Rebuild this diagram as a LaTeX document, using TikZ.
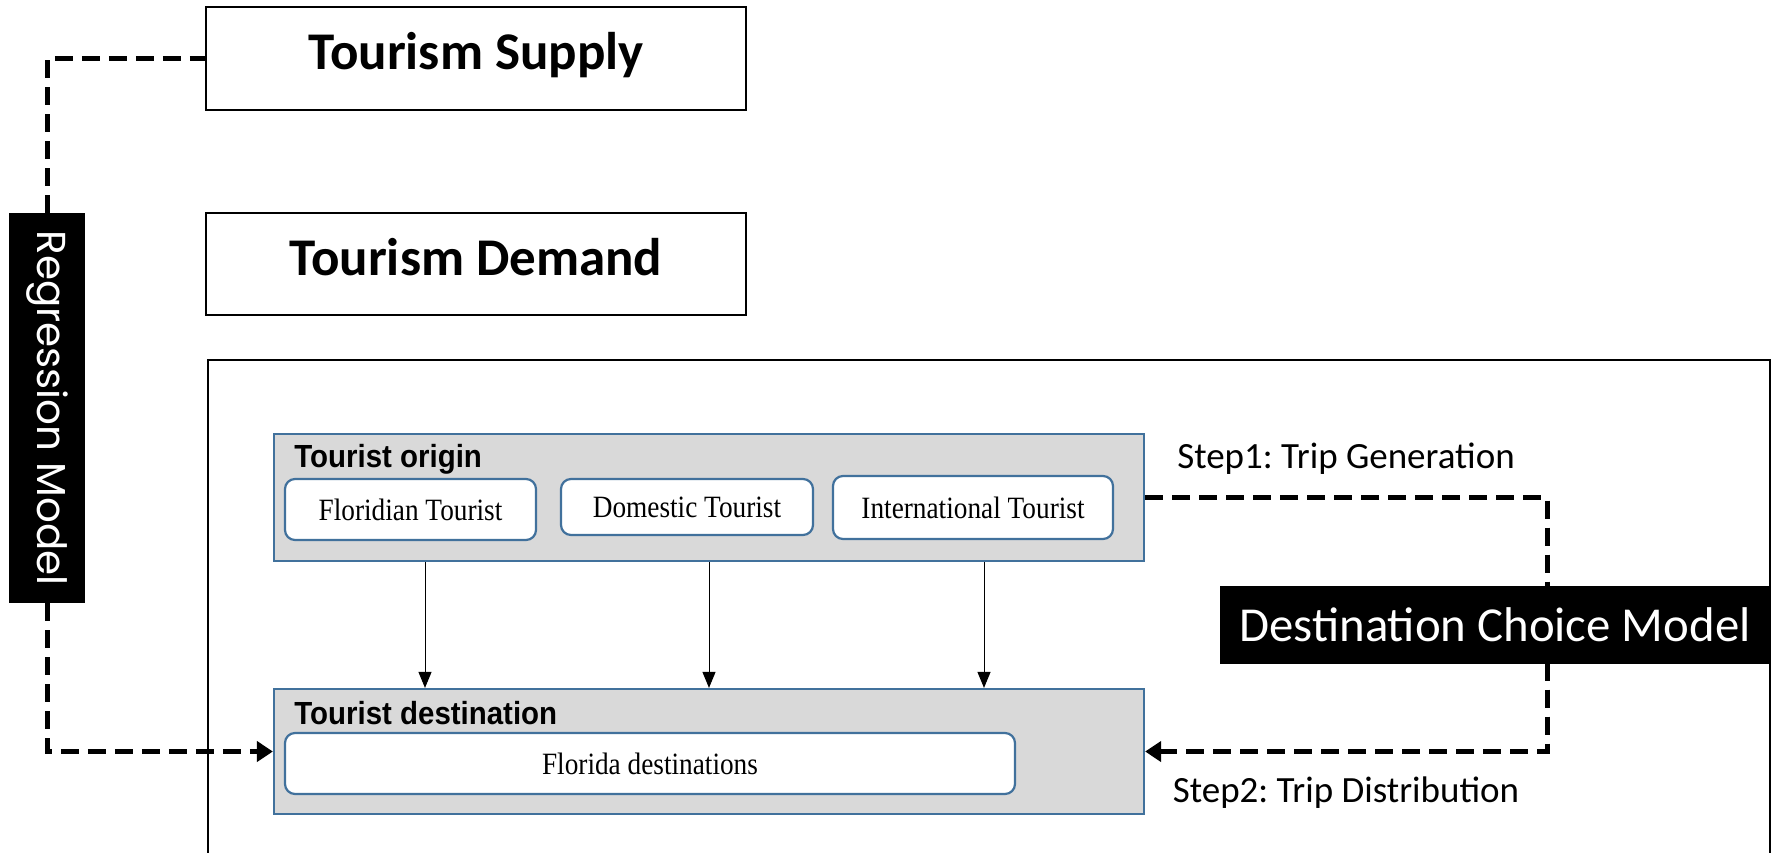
\documentclass[tikz,border=0pt]{standalone}
\usepackage{fontspec}
\usetikzlibrary{arrows.meta}
\newfontfamily\carlito{Carlito}
\newfontfamily\arialf{Liberation Sans}[FakeStretch=0.92]
\newfontfamily\timesf{Liberation Serif}[FakeStretch=0.88]
\newfontfamily\geof{Poppins}
\definecolor{boxblue}{HTML}{41719C}
\definecolor{boxgray}{HTML}{D9D9D9}
\begin{document}
\frenchspacing
\begin{tikzpicture}[x=0.5pt,y=-0.5pt,
  topbox/.style={draw=black,line width=0.9pt,fill=white,inner sep=0pt,
    text height=11.3pt,text depth=0pt,
    font=\carlito\bfseries\fontsize{26.5}{30}\selectfont},
  blackbox/.style={fill=black,text=white,inner sep=0pt},
  graybox/.style={draw=boxblue,line width=1.1pt,fill=boxgray,inner sep=0pt},
  itembox/.style={draw=boxblue,line width=1.1pt,fill=white,rounded corners=5pt,inner sep=0pt,
    font=\timesf\fontsize{15.5}{17}\selectfont},
  grouplabel/.style={anchor=west,inner sep=0pt,font=\arialf\bfseries\fontsize{16}{18}\selectfont},
  steplabel/.style={inner sep=0pt,font=\carlito\fontsize{18.5}{21}\selectfont},
  dashline/.style={line width=2.5pt,dash pattern=on 9pt off 4.5pt},
  thinarrow/.style={line width=0.5pt,-{Triangle[length=8pt,width=6.5pt]}},
  dashtip/.style={-{Triangle[length=8pt,width=10pt]}},
]
\useasboundingbox (0,0) rectangle (1773,852);
% container
\draw[line width=0.75pt] (208,870) -- (208,360) -- (1770,360) -- (1770,870);
% top boxes
\node[topbox,minimum width=270pt,minimum height=51.5pt] (supply) at (476,58.5) {Tourism Supply};
\node[topbox,minimum width=270pt,minimum height=51pt] (demand) at (476,264) {Tourism Demand};
% groups
\node[graybox,minimum width=435pt,minimum height=63.5pt] (origin) at (709,497.5) {};
\node[graybox,minimum width=435pt,minimum height=62.5pt] (dest) at (709,751.5) {};
\node[grouplabel] (originlbl) at (294,459) {Tourist origin};
\node[grouplabel] (destlbl) at (294,713) {Tourist destination};
\node[itembox,minimum width=125.5pt,minimum height=30.5pt] (flo) at (410.5,509.5) {Floridian Tourist};
\node[itembox,minimum width=126pt,minimum height=28pt] (dom) at (687,507) {Domestic Tourist};
\node[itembox,minimum width=140pt,minimum height=31.5pt] (int) at (973,507.5) {International Tourist};
\node[itembox,minimum width=365pt,minimum height=30.5pt] (fdest) at (650,763.5) {Florida destinations};
% thin arrows
\draw[thinarrow] ([xshift=-142pt]origin.south) -- ([xshift=-142pt]dest.north);
\draw[thinarrow] (origin.south) -- (dest.north);
\draw[thinarrow] ([xshift=137.5pt]origin.south) -- ([xshift=137.5pt]dest.north);
% step labels
\node[steplabel] (step1) at (1346,459) {Step1: Trip Generation};
\node[steplabel] (step2) at (1346,793) {Step2: Trip Distribution};
% right dashed loop
\coordinate (rc) at (1547,625);
\draw[dashline,dashtip] (origin.east) -- (origin.east -| rc) -- (dest.east -| rc) -- (dest.east);
% regression
\node[blackbox,minimum width=38pt,minimum height=195pt] (reg) at (47,408) {};
\node[text=white,rotate=-90,inner sep=0pt,font=\geof\fontsize{20.2}{23}\selectfont] (regtxt) at (reg.center) {Regression Model};
\draw[dashline] (reg.north) |- (supply.west);
\draw[dashline,dashtip] (reg.south) |- (dest.west);
% destination choice model
\node[blackbox,minimum width=275pt,minimum height=39pt,font=\carlito\fontsize{24.4}{27}\selectfont] (dcm) at (1495,625) {Destination Choice Model};
\end{tikzpicture}
\end{document}
